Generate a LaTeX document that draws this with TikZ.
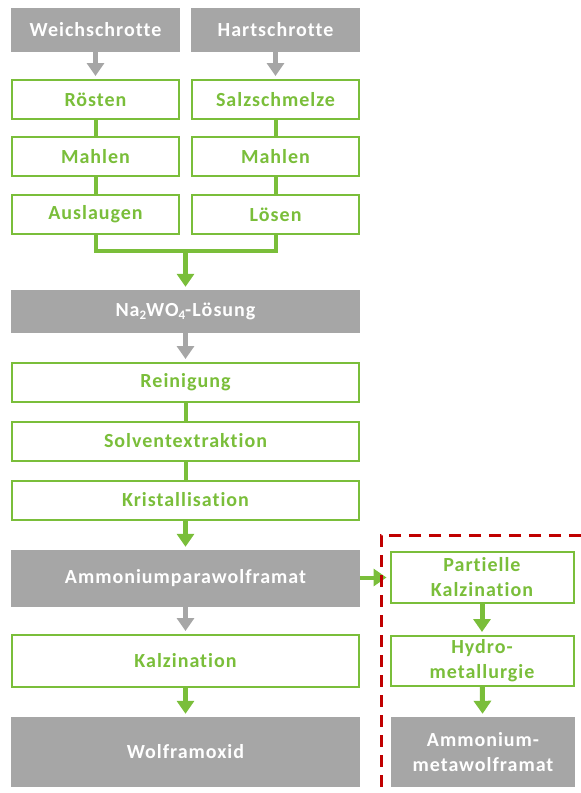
\documentclass[tikz,border=0pt]{standalone}
\usepackage{fontspec}
\setmainfont{Carlito}[LetterSpace=5, Ligatures=NoCommon]
\usetikzlibrary{arrows.meta}
\definecolor{wGrey}{RGB}{166,166,166}
\definecolor{wGreen}{RGB}{122,190,58}
\definecolor{wRed}{RGB}{192,0,0}
\newcommand{\lowidx}[1]{\raisebox{-0.35ex}{\fontsize{13}{13}\selectfont #1}}
\begin{document}
\begin{tikzpicture}[x=1pt, y=-1pt, font=\bfseries\fontsize{20}{25}\selectfont,
    stock/.style={fill=wGrey, text=white, inner sep=0pt, align=center},
    stage/.style={draw=wGreen, line width=2pt, fill=white, text=wGreen, inner sep=0pt, align=center},
    narrow/.style={minimum width=#1, minimum height=39pt},
    flow/.style={line width=5pt, -{Triangle[width=17pt, length=13pt]}, shorten >=3pt},
    link/.style={draw=wGreen, line width=4pt}]
\useasboundingbox (0,0) rectangle (581,793);
\node[stock, minimum width=169pt, minimum height=44pt] (weich) at (95.5,30) {Weichschrotte};
\node[stock, minimum width=169pt, minimum height=44pt] (hart) at (275.5,30) {Hartschrotte};
\node[stage, narrow=167pt] (roesten) at (95.5,99.5) {Rösten};
\node[stage, narrow=167pt] (mahlenA) at (95.5,156.5) {Mahlen};
\node[stage, narrow=167pt] (auslaugen) at (95.5,214.5) {Auslaugen};
\node[stage, narrow=167pt] (salz) at (275.5,99.5) {Salzschmelze};
\node[stage, narrow=167pt] (mahlenB) at (275.5,156.5) {Mahlen};
\node[stage, narrow=167pt] (loesen) at (275.5,214.5) {Lösen};
\coordinate (merge) at (185.5,251);
\node[stock, minimum width=349pt, minimum height=43pt] (natrium) at (185.5,311.5) {Na\lowidx{2}WO\lowidx{4}-Lösung};
\node[stage, narrow=347pt] (reinigung) at (185.5,382.5) {Reinigung};
\node[stage, narrow=347pt] (solvent) at (185.5,441) {Solventextraktion};
\node[stage, narrow=347pt] (kristall) at (185.5,500) {Kristallisation};
\node[stock, minimum width=349pt, minimum height=57pt] (apt) at (185.5,578.5) {Ammoniumparawolframat};
\node[stage, minimum width=347pt, minimum height=52pt] (kalz) at (185.5,661) {Kalzination};
\node[stock, minimum width=349pt, minimum height=70pt] (oxid) at (185.5,752) {Wolframoxid};
\node[stage, minimum width=183pt, minimum height=51pt] (partiell) at (482,577.5) {Partielle\\Kalzination};
\node[stage, minimum width=183pt, minimum height=50pt] (hydro) at (482,661) {Hydro-\\metallurgie};
\node[stock, minimum width=184pt, minimum height=70pt] (amt) at (483,752) {Ammonium-\\metawolframat};
\path[link] (roesten) -- (mahlenA) (mahlenA) -- (auslaugen)
            (salz) -- (mahlenB) (mahlenB) -- (loesen)
            (auslaugen.south) |- (merge) -| (loesen.south);
\draw[flow, wGrey] (weich) -- (roesten);
\draw[flow, wGrey] (hart) -- (salz);
\draw[flow, wGreen] (merge) -- (natrium);
\draw[flow, wGrey] (natrium) -- (reinigung);
\path[link] (reinigung) -- (solvent) (solvent) -- (kristall);
\draw[flow, wGreen] (kristall) -- (apt);
\draw[flow, wGrey] (apt) -- (kalz);
\draw[flow, wGreen] (kalz) -- (oxid);
\draw[flow, wGreen, line width=4pt] (apt.east |- partiell.west) -- (partiell.west);
\draw[flow, wGreen] (partiell) -- (hydro);
\draw[flow, wGreen] (hydro) -- (amt);
\coordinate (frameTop) at (581,535);
\coordinate (frameBot) at (381,793);
\draw[wRed, line width=3pt, dash pattern=on 12pt off 8pt] (frameTop) -| (frameBot);
\end{tikzpicture}
\end{document}
